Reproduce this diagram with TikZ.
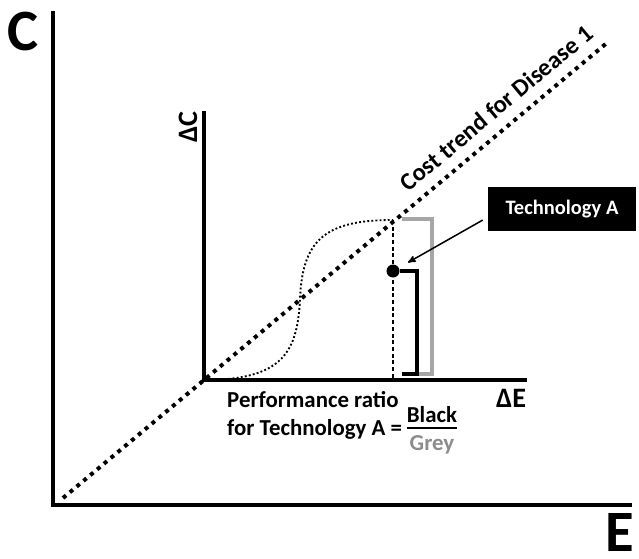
\documentclass[tikz,border=0pt]{standalone}
\usepackage{fontspec}
\setmainfont{Carlito}
\usetikzlibrary{arrows}
\definecolor{greyline}{HTML}{A6A6A6}
\definecolor{greytxt}{HTML}{8C8C8C}

\begin{document}
\begin{tikzpicture}[x=0.03cm,y=-0.03cm,>=stealth',
    axis/.style={line width=3.4pt},
    inaxis/.style={line width=2.6pt},
    trend/.style={line width=3.4pt,dash pattern=on 3.4pt off 4.2pt},
    scurve/.style={line width=1.6pt,dash pattern=on 1.6pt off 1.9pt},
    drop/.style={line width=1.7pt,dash pattern=on 3.4pt off 2.3pt},
    bracket/.style={line width=2.6pt},
    big/.style={font=\fontsize{50}{50}\selectfont\bfseries,inner sep=0pt},
    mid/.style={font=\fontsize{24}{24}\selectfont\bfseries,inner sep=0pt},
    lbl/.style={font=\fontsize{19.5}{23}\selectfont\bfseries,inner sep=0pt},
    techbox/.style={font=\fontsize{17.5}{20}\selectfont\bfseries,fill=black,text=white,minimum width=4.44cm,minimum height=1.32cm},
    dot/.style={circle,fill=black,inner sep=0pt,minimum size=0.39cm}]
  \useasboundingbox (0,0) rectangle (639,559);
  \coordinate (O) at (53,505);
  \coordinate (ctop) at (53,11);
  \coordinate (eend) at (632,505);
  \node[big] (C) at (23,31) {C};
  \node[big] (E) at (620,533) {E};
  \draw[axis] (ctop) -- (O) -- (eend);

  \coordinate (o) at (204,380);
  \coordinate (dctop) at (204,111);
  \coordinate (deend) at (527,380);
  \draw[inaxis] (dctop) -- (o) -- (deend);
  \node[mid,rotate=90] (dC) at (188,127) {ΔC};
  \node[mid] (dE) at (511,398) {ΔE};

  \coordinate (t0) at (63,498);
  \coordinate (t1) at (608,42);
  \draw[trend] (t0) -- (t1) node[lbl,font=\fontsize{21}{24}\selectfont\bfseries,pos=0.82,sloped,above=9pt] (trendlbl) {Cost trend for Disease 1};

  \coordinate (top) at (393,220);
  \coordinate (foot) at (393,380);
  \draw[scurve] (o) .. controls (285,380) and (297,350) .. (300,300) .. controls (302,240) and (325,220) .. (top);
  \draw[drop] (top) -- (foot);
  \node[dot] (pt) at (393,271) {};
  \draw[bracket,greyline] (402,219) -| (432,374) -- (402,374);
  \draw[bracket] (pt.east) -| (417,374) -- (402,374);

  \node[techbox] (tech) at (562,209) {Technology A};
  \draw[->,line width=1.3pt,shorten <=5pt,shorten >=9pt] ([yshift=-7pt]tech.west) -- (pt);

  \node[lbl,anchor=base west] (perf) at (227,407) {Performance ratio};
  \node[lbl,anchor=base west] (fortech) at (227,435) {for Technology A =};
  \node[lbl,anchor=base] (blk) at (432,422) {Black};
  \node[lbl,anchor=base,text=greytxt] (gry) at (432,450) {Grey};
  \draw[line width=1.7pt] (blk.west |- 0,428) -- (blk.east |- 0,428);
\end{tikzpicture}
\end{document}
